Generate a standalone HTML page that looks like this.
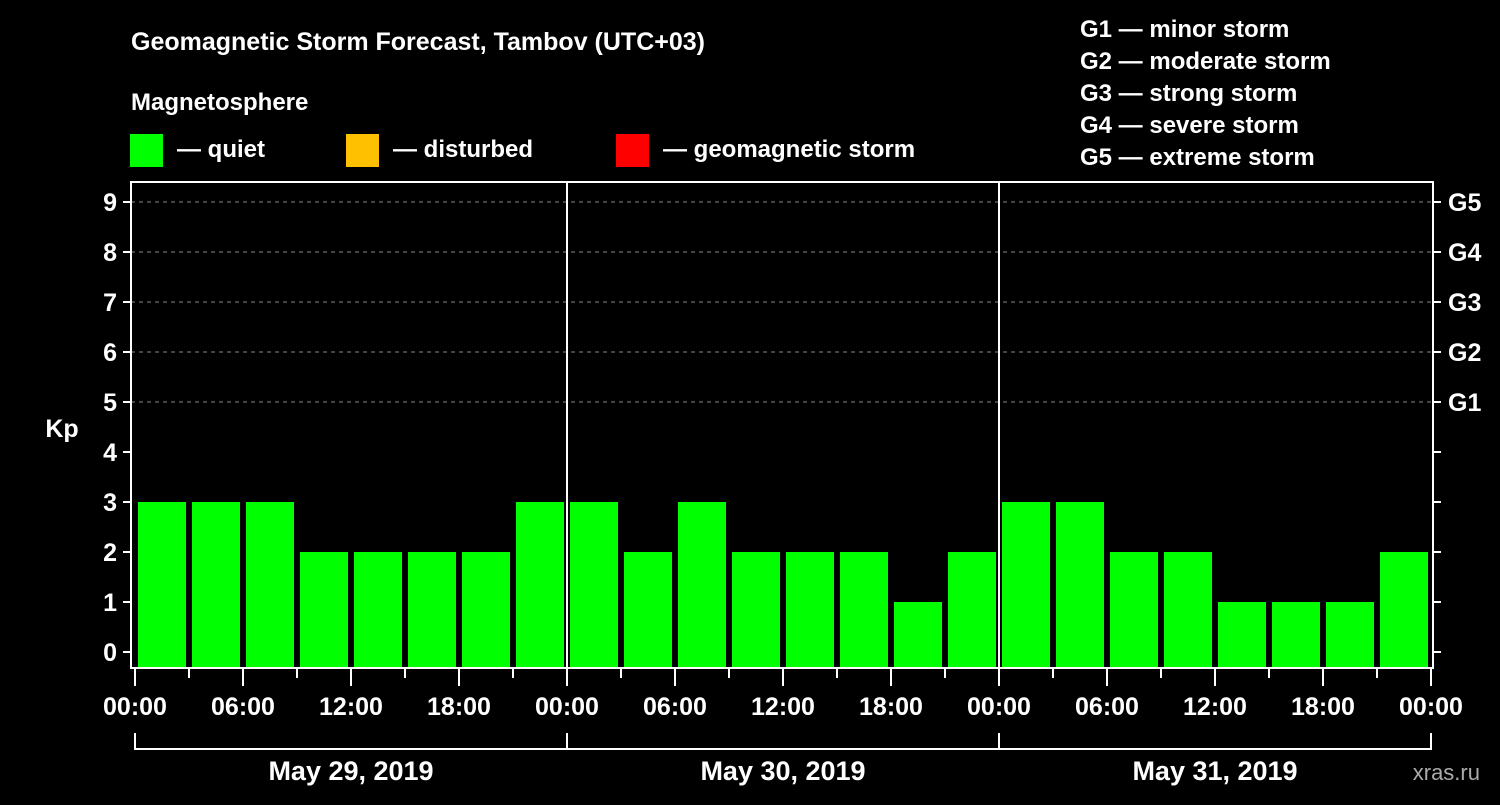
<!DOCTYPE html>
<html><head><meta charset="utf-8"><style>
body{margin:0;background:#000;width:1500px;height:800px;overflow:hidden}
svg text{font-family:"Liberation Sans",sans-serif;font-weight:bold;fill:#fff}
</style></head><body>
<svg width="1500" height="800">
<g id="hdr">
<text x="131" y="50" font-size="25">Geomagnetic Storm Forecast, Tambov (UTC+03)</text>
<text x="131" y="110" font-size="24">Magnetosphere</text>
<rect x="130" y="134" width="33" height="33" fill="#00ff00"/>
<text x="177" y="157" font-size="24">— quiet</text>
<rect x="346" y="134" width="33" height="33" fill="#ffc000"/>
<text x="393" y="157" font-size="24">— disturbed</text>
<rect x="616" y="134" width="33" height="33" fill="#ff0000"/>
<text x="663" y="157" font-size="24">— geomagnetic storm</text>
<text x="1080" y="37" font-size="24">G1 — minor storm</text>
<text x="1080" y="69" font-size="24">G2 — moderate storm</text>
<text x="1080" y="101" font-size="24">G3 — strong storm</text>
<text x="1080" y="133" font-size="24">G4 — severe storm</text>
<text x="1080" y="165" font-size="24">G5 — extreme storm</text>
<text x="62" y="437" font-size="25" text-anchor="middle">Kp</text>
<text x="1480" y="780" font-size="22" text-anchor="end" fill="#aaa" style="fill:#aaa;font-weight:normal">xras.ru</text>
</g>
<g id="plot"></g>
</svg>
<script>
const kpValues=[3,3,3,2,2,2,2,3, 3,2,3,2,2,2,1,2, 3,3,2,2,1,1,1,2];
const dayLabels=["May 29, 2019","May 30, 2019","May 31, 2019"];
const hourLabels=["00:00","06:00","12:00","18:00"];
const yTicks=[0,1,2,3,4,5,6,7,8,9];
const gLabels=["G1","G2","G3","G4","G5"];
const NS="http://www.w3.org/2000/svg";
const g=document.getElementById('plot');
const X0=135,SLOT=54,L=131,R=1433,T=182,B=668;
const xs=i=>X0+i*SLOT;
const ys=v=>652-v*50;
function mk(t,a){const e=document.createElementNS(NS,t);for(const k in a)e.setAttribute(k,a[k]);g.appendChild(e);return e;}
// grid
for(let v=5;v<=9;v++){const e=mk('line',{x1:L,x2:R,y1:ys(v),y2:ys(v),stroke:'#888','stroke-dasharray':'4,4','stroke-width':1});

}
// bars
kpValues.forEach((v,i)=>{const c=v>=5?'#ff0000':(v>=4?'#ffc000':'#00ff00');
const e=mk('rect',{x:xs(i)+3,y:ys(v),width:48,height:B-ys(v),fill:c});

});
// day separators
for(let d=1;d<dayLabels.length;d++){const e=mk('line',{x1:xs(d*8),x2:xs(d*8),y1:T,y2:B,stroke:'#fff','stroke-width':2});

}
// frame
const fr=mk('rect',{x:L,y:T,width:R-L,height:B-T,fill:'none',stroke:'#fff','stroke-width':2});


// y ticks
yTicks.forEach(v=>{
mk('line',{x1:123,x2:L,y1:ys(v),y2:ys(v),stroke:'#fff','stroke-width':2});
mk('line',{x1:R,x2:1441,y1:ys(v),y2:ys(v),stroke:'#fff','stroke-width':2});
const t=mk('text',{x:117,y:ys(v)+9,'font-size':25,'text-anchor':'end'});t.textContent=v;

});
gLabels.forEach((s,i)=>{const t=mk('text',{x:1448,y:ys(5+i)+9,'font-size':25});t.textContent=s;

});
// x ticks
for(let i=0;i<=kpValues.length;i++){const major=i%2===0;
mk('line',{x1:xs(i),x2:xs(i),y1:B,y2:major?686:678,stroke:'#fff','stroke-width':2});
if(major){const t=mk('text',{x:xs(i),y:715,'font-size':25,'text-anchor':'middle'});t.textContent=hourLabels[(i/2)%4];

}}
// day brackets
mk('line',{x1:xs(0),x2:xs(24),y1:749,y2:749,stroke:'#fff','stroke-width':2});
for(let d=0;d<=dayLabels.length;d++)mk('line',{x1:xs(d*8),x2:xs(d*8),y1:733,y2:750,stroke:'#fff','stroke-width':2});
dayLabels.forEach((s,d)=>{const t=mk('text',{x:xs(d*8+4),y:780,'font-size':27,'text-anchor':'middle'});t.textContent=s;

});
</script>
</body></html>
